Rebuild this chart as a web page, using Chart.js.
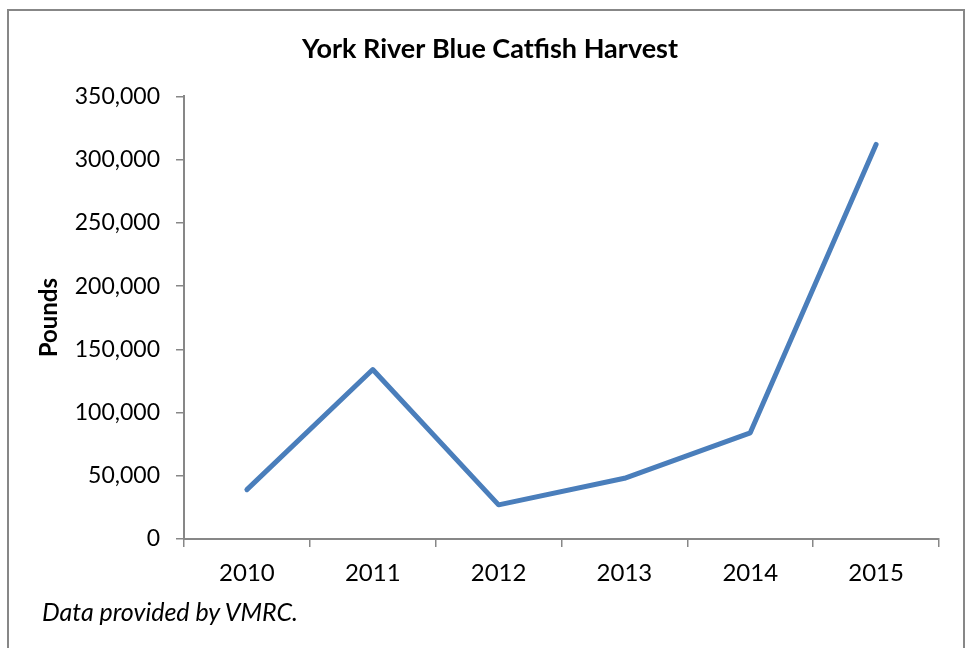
<!DOCTYPE html>
<html>
<head>
<meta charset="utf-8">
<script src="https://cdn.jsdelivr.net/npm/chart.js@4.4.1/dist/chart.umd.min.js"></script>
<style>
  html, body { margin: 0; padding: 0; background: #fff; }
  #wrap { position: relative; width: 971px; height: 648px; overflow: hidden; }
  #frame { position: absolute; left: 7px; top: 9px; width: 958px; height: 700px; border: 2px solid #878787; box-sizing: border-box; }
  #c { position: absolute; left: 0; top: 0; }
  #note { position: absolute; left: 42px; top: 596px; font-family: Lato, sans-serif; font-style: italic; font-size: 25px; color: #000; }
</style>
</head>
<body>
<div id="wrap">
  <div id="frame"></div>
  <canvas id="c" width="971" height="648"></canvas>
  <div id="note">Data provided by VMRC.</div>
</div>
<script>
const chartTitle = "York River Blue Catfish Harvest";
const yAxisTitle = "Pounds";
const years = ["2010", "2011", "2012", "2013", "2014", "2015"];
const harvestPounds = [39000, 134000, 27000, 48000, 84000, 312000];
const yTickMin = 0;
const yTickMax = 350000;
const yTickStep = 50000;

const axisGray = '#878787';
const fontFamily = 'Lato, sans-serif';

new Chart(document.getElementById('c'), {
  type: 'line',
  data: {
    labels: years,
    datasets: [{
      label: 'Harvest',
      data: harvestPounds,
      borderColor: '#4a7ebb',
      borderWidth: 5,
      pointRadius: 0,
      pointHoverRadius: 0,
      tension: 0,
      borderCapStyle: 'round',
      borderJoinStyle: 'round',
      fill: false
    }]
  },
  options: {
    responsive: false,
    animation: false,
    devicePixelRatio: 1,
    layout: { padding: { left: 41, right: 32, top: 10, bottom: 49 } },
    plugins: {
      legend: { display: false },
      tooltip: { enabled: false },
      title: {
        display: true,
        text: chartTitle,
        color: '#000',
        font: { family: fontFamily, size: 27, weight: 'bold', lineHeight: 1.2 },
        padding: { top: 23, bottom: 31 }
      }
    },
    scales: {
      x: {
        offset: true,
        grid: { display: true, offset: true, drawOnChartArea: false, drawTicks: true, tickLength: 8, color: axisGray, lineWidth: 1.5 },
        border: { display: true, color: axisGray, width: 2 },
        ticks: { color: '#000', font: { family: fontFamily, size: 24 }, padding: 12, maxRotation: 0 },
        afterFit: (s) => { s.height = 60; }
      },
      y: {
        min: yTickMin,
        max: yTickMax,
        grid: { display: true, drawOnChartArea: false, drawTicks: true, tickLength: 8, color: axisGray, lineWidth: 1.5 },
        border: { display: true, color: axisGray, width: 2 },
        ticks: {
          stepSize: yTickStep,
          color: '#000',
          font: { family: fontFamily, size: 23 },
          padding: 16,
          callback: (v) => v.toLocaleString('en-US')
        },
        title: {
          display: true,
          text: yAxisTitle,
          color: '#000',
          font: { family: fontFamily, size: 24, weight: 'bold', lineHeight: 0.7 },
          padding: { top: 0, bottom: 0 }
        },
        afterFit: (s) => { s.width = 143; }
      }
    }
  }
});
</script>
</body>
</html>
